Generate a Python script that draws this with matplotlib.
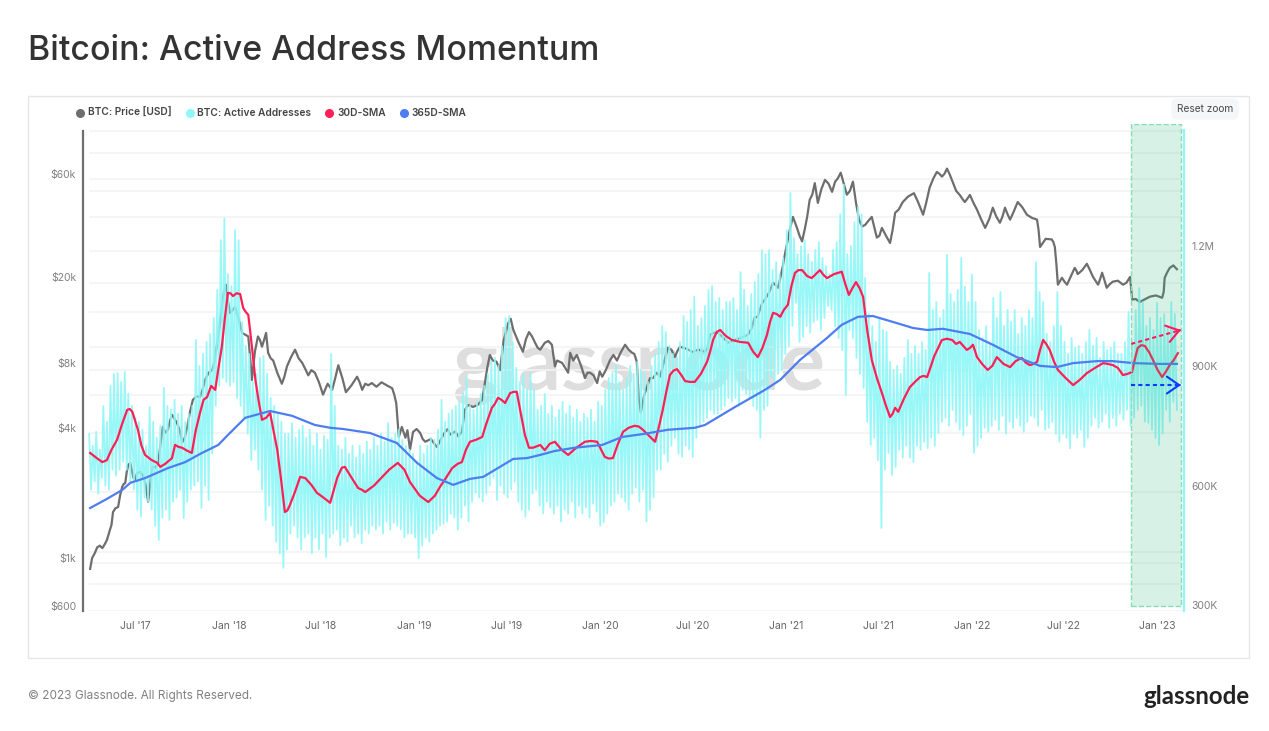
import matplotlib.pyplot as plt
import numpy as np

def_start_date = np.datetime64('2017-04-01')
def_width_px = 1269
def_height_px = 731
def_grey = '#6e6e6e'
def_cyan = '#8ff7f7'
def_red = '#ff1f55'
def_blue = '#4d7df0'

# (days since start, price in thousands of usd)
price_rows = [
    (2, 0.89), (6, 1.0), (16, 1.12), (26, 1.11), (35, 1.21), (41, 1.35), (47, 1.63), (57, 1.72), (65, 2.13),
    (71, 2.22), (77, 2.70), (81, 2.75), (87, 2.35), (94, 2.47), (106, 2.42), (116, 1.82), (124, 2.64), (136, 2.75),
    (145, 4.04), (155, 3.92), (163, 4.6), (173, 4.2), (183, 3.42), (193, 4.04), (204, 5.39), (218, 5.56), (228, 6.66),
    (242, 7.4), (252, 9.9), (261, 14.5), (269, 18.4), (277, 13.6), (287, 14.5), (301, 11.0), (313, 10.6), (320, 6.66),
    (332, 10.6), (340, 9.5), (348, 11.0), (352, 8.9), (362, 8.2), (379, 6.4), (389, 7.7), (405, 9.2), (419, 8.0),
    (431, 7.0), (444, 7.2), (460, 5.7), (478, 6.0), (490, 7.8), (505, 5.85), (527, 6.9), (537, 6.0), (549, 6.3),
    (596, 6.1), (604, 5.2), (609, 3.63), (615, 4.04), (631, 3.17), (637, 3.83), (651, 3.79), (661, 3.45), (684, 3.26),
    (700, 3.83), (710, 3.72), (733, 3.83), (739, 4.85), (755, 5.0), (773, 5.39), (783, 7.6), (794, 8.2), (808, 7.4),
    (824, 12.2), (834, 11.4), (853, 9.0), (865, 11.1), (877, 9.9), (887, 9.2), (896, 9.9), (910, 9.7), (916, 7.7),
    (930, 8.0), (942, 7.2), (946, 8.9), (959, 8.7), (975, 6.8), (985, 7.2), (999, 6.45), (1009, 6.9), (1024, 8.2),
    (1038, 8.2), (1054, 9.7), (1068, 8.9), (1077, 8.1), (1085, 4.7), (1097, 6.2), (1109, 6.8), (1123, 6.9),
    (1138, 9.4), (1152, 8.5), (1162, 9.5), (1186, 9.0), (1211, 9.0), (1221, 10.8), (1235, 11.1), (1256, 9.9),
    (1284, 10.5), (1296, 10.8), (1309, 13.0), (1319, 14.1), (1329, 15.7), (1345, 18.8), (1355, 17.8), (1364, 22.3),
    (1374, 29.8), (1384, 37.9), (1392, 33.7), (1402, 29.2), (1412, 37.9), (1417, 45.5), (1427, 54.3), (1433, 44),
    (1447, 56.2), (1461, 49.5), (1467, 55.2), (1478, 60.7), (1490, 48), (1502, 55.2), (1514, 36.8), (1520, 34.2),
    (1539, 37.9), (1549, 30.4), (1559, 33.7), (1575, 28.7), (1585, 39.6), (1600, 44.4), (1622, 48.8), (1630, 44.4),
    (1640, 38.8), (1653, 52), (1667, 61.2), (1677, 58.2), (1687, 63.4), (1699, 54.3), (1712, 47.9), (1722, 44.4),
    (1732, 47.9), (1746, 40.9), (1762, 33.7), (1777, 41.8), (1791, 35.6), (1801, 41.8), (1811, 36.8), (1826, 44.4),
    (1844, 38.8), (1864, 36.8), (1870, 27.5), (1893, 29.8), (1899, 27.5), (1905, 18.4), (1913, 19.8), (1923, 18.4),
    (1938, 22), (1944, 20.6), (1962, 23.0), (1974, 20.0), (1984, 18.4), (1992, 20.9), (2001, 17.8), (2013, 19.0),
    (2033, 18.4), (2047, 20.0), (2051, 15.7), (2066, 15.3), (2086, 16.2), (2110, 16.0), (2115, 19.8), (2125, 22.0),
    (2139, 21.7)]
# second reading, in between the first one
price_rows += [
    (11, 1.05), (21, 1.14), (31, 1.16), (38, 1.28), (44, 1.42), (52, 1.7), (61, 1.95), (68, 2.2), (74, 2.5),
    (84, 2.55), (91, 2.3), (100, 2.5), (111, 2.2), (120, 2.2), (130, 2.62), (140, 3.3), (150, 3.8), (159, 4.3),
    (168, 4.4), (178, 3.9), (188, 3.6), (198, 4.7), (211, 5.6), (223, 6.0), (235, 7.2), (247, 8.2), (257, 12),
    (265, 17), (273, 15.5), (282, 14), (294, 12.8), (307, 10.8), (317, 8.3), (326, 9), (336, 10.2), (344, 10.2),
    (357, 8.4), (370, 7.2), (384, 6.9), (397, 8.5), (412, 8.4), (425, 7.5), (437, 7.4), (452, 6.5), (469, 6.4),
    (484, 6.8), (498, 6.8), (516, 6.3), (532, 6.5), (543, 6.4), (556, 6.45), (565, 6.2), (575, 6.5), (585, 6.3),
    (600, 5.7), (622, 3.6), (626, 3.9), (644, 3.95), (656, 3.55), (672, 3.55), (692, 3.55), (705, 3.95), (720, 3.85),
    (726, 3.65), (745, 5.1), (764, 5.1), (778, 6.4), (788, 8.7), (801, 8.1), (815, 10.1), (829, 12.8), (844, 10),
    (859, 10.3), (871, 10.6), (882, 9.4), (903, 10.1), (920, 8.2), (936, 7.6), (952, 8.2), (967, 7.8), (980, 7.2),
    (992, 7.0), (1004, 7.3), (1016, 7.4), (1031, 8.7), (1046, 9), (1061, 9.2), (1072, 8.8), (1081, 5.4), (1091, 5.6),
    (1103, 6.8), (1116, 7.2), (1130, 8), (1145, 9.2), (1157, 9.1), (1174, 9.3), (1198, 9.2), (1216, 9.3), (1228, 11),
    (1246, 10.5), (1270, 10.2), (1303, 11.6), (1314, 13), (1324, 15.2), (1337, 16.9), (1350, 18.3), (1369, 26),
    (1379, 34), (1397, 31), (1407, 33), (1422, 48), (1440, 51), (1454, 54), (1472, 57), (1484, 54), (1496, 50),
    (1508, 44), (1526, 34.8), (1533, 36.5), (1544, 34), (1554, 31), (1567, 31), (1580, 33), (1592, 41), (1610, 47),
    (1626, 46.5), (1635, 41.5), (1646, 44), (1660, 57), (1672, 60), (1682, 60), (1693, 59), (1705, 50), (1717, 46),
    (1727, 46), (1739, 44), (1754, 37), (1770, 37), (1784, 38), (1796, 38), (1806, 39), (1818, 40), (1835, 42),
    (1854, 37.5), (1867, 33), (1881, 30), (1896, 29), (1902, 23), (1918, 19), (1930, 20), (1941, 21.5), (1953, 21.5),
    (1968, 21.5), (1979, 19.2), (1988, 19.5), (1996, 19.5), (2007, 18.5), (2023, 19.2), (2040, 18.8), (2058, 15.8),
    (2075, 15.7), (2098, 16.4), (2113, 17), (2120, 21), (2132, 22.6)]

# (days since start, addresses in thousands)
sma_30_rows = [
    (2, 682), (26, 659), (35, 664), (55, 715), (75, 790), (85, 785), (96, 740), (110, 677), (134, 657), (140, 647),
    (163, 669), (169, 702), (183, 695), (202, 682), (218, 782), (232, 822), (248, 840), (261, 948), (273, 1083),
    (283, 1075), (297, 1080), (303, 1045), (313, 1028), (327, 865), (340, 765), (356, 782), (370, 690), (385, 534),
    (395, 552), (415, 622), (425, 619), (448, 582), (474, 557), (503, 647), (529, 594), (543, 584), (607, 657),
    (631, 609), (667, 559), (690, 597), (714, 644), (733, 659), (749, 710), (773, 722), (792, 795), (804, 820),
    (818, 807), (828, 832), (841, 835), (857, 727), (873, 695), (887, 702), (896, 689), (916, 710), (942, 677),
    (975, 710), (999, 710), (1014, 672), (1030, 669), (1050, 735), (1073, 750), (1089, 740), (1113, 710), (1128, 790),
    (1142, 877), (1156, 892), (1172, 862), (1191, 860), (1215, 910), (1227, 965), (1241, 990), (1264, 965),
    (1296, 958), (1315, 922), (1333, 978), (1345, 1033), (1359, 1023), (1374, 1053), (1388, 1133), (1402, 1140),
    (1421, 1120), (1437, 1140), (1451, 1120), (1480, 1136), (1494, 1078), (1508, 1110), (1522, 1073), (1539, 915),
    (1559, 832), (1575, 772), (1585, 795), (1591, 785), (1614, 847), (1634, 872), (1648, 872), (1677, 965),
    (1697, 965), (1712, 960), (1726, 940), (1738, 953), (1746, 922), (1767, 890), (1785, 922), (1811, 897),
    (1834, 920), (1850, 902), (1864, 910), (1876, 965), (1889, 940), (1905, 890), (1935, 852), (1962, 882),
    (1994, 907), (2013, 902), (2033, 877), (2051, 885), (2062, 945), (2076, 950), (2092, 915), (2110, 872),
    (2125, 902), (2141, 932)]
sma_30_rows += [
    (14, 670), (44, 690), (65, 755), (80, 792), (91, 760), (103, 700), (122, 665), (150, 655), (176, 697), (192, 688),
    (210, 740), (225, 815), (240, 850), (255, 900), (267, 1020), (278, 1082), (290, 1082), (308, 1035), (320, 950),
    (333, 815), (348, 770), (363, 735), (378, 610), (390, 538), (405, 585), (437, 602), (461, 570), (488, 620),
    (497, 645), (516, 620), (536, 590), (560, 600), (575, 620), (590, 640), (620, 640), (650, 575), (680, 575),
    (702, 620), (725, 655), (741, 690), (761, 715), (781, 755), (798, 805), (811, 815), (835, 835), (849, 780),
    (865, 695), (906, 705), (929, 690), (958, 695), (987, 712), (1007, 690), (1022, 668), (1040, 705), (1061, 745),
    (1081, 748), (1101, 725), (1120, 745), (1135, 835), (1149, 888), (1164, 878), (1181, 860), (1203, 880),
    (1221, 935), (1234, 985), (1252, 975), (1280, 960), (1306, 935), (1324, 945), (1339, 1010), (1352, 1030),
    (1366, 1040), (1381, 1100), (1395, 1140), (1412, 1125), (1429, 1130), (1444, 1128), (1465, 1130), (1487, 1105),
    (1501, 1095), (1515, 1095), (1530, 990), (1549, 870), (1567, 800), (1580, 780), (1603, 820), (1624, 860),
    (1641, 875), (1662, 925), (1687, 968), (1705, 955), (1719, 950), (1732, 945), (1756, 905), (1776, 900),
    (1798, 905), (1822, 912), (1842, 908), (1857, 905), (1870, 940), (1882, 955), (1897, 912), (1920, 870),
    (1948, 865), (1978, 895), (2003, 905), (2023, 895), (2042, 880), (2056, 915), (2069, 952), (2084, 935),
    (2101, 890), (2117, 885), (2133, 915)]

sma_365_rows = [
    (2, 544), (31, 564), (65, 589), (81, 607), (110, 619), (155, 644), (189, 659), (222, 682), (254, 702), (273, 727),
    (307, 770), (356, 787), (399, 775), (444, 752), (474, 745), (499, 742), (552, 732), (605, 707), (645, 657),
    (684, 619), (716, 602), (749, 617), (775, 622), (834, 667), (861, 669), (887, 677), (916, 687), (955, 695),
    (1009, 702), (1048, 722), (1093, 730), (1138, 740), (1191, 745), (1211, 752), (1270, 797), (1329, 840),
    (1359, 865), (1398, 915), (1451, 970), (1480, 1003), (1512, 1023), (1541, 1025), (1581, 1010), (1620, 995),
    (1648, 990), (1679, 993), (1732, 980), (1777, 953), (1824, 922), (1870, 900), (1903, 897), (1935, 907),
    (1982, 912), (2013, 912), (2053, 907), (2105, 905), (2139, 905)]

# one high and one low per week, the active addresses swing with the weekend
active_highs = [
    730, 700, 735, 690, 800, 760, 850, 880, 882, 860,
    885, 830, 800, 770, 760, 740, 700, 797, 760, 720,
    750, 845, 800, 790, 815, 780, 800, 760, 780, 800,
    965, 900, 930, 960, 980, 1020, 1090, 1215, 1270, 1130,
    1100, 1240, 1215, 1010, 950, 930, 860, 880, 920, 925,
    880, 820, 800, 780, 760, 730, 730, 757, 720, 740,
    750, 720, 740, 700, 730, 690, 725, 715, 930, 800,
    700, 690, 720, 680, 700, 670, 700, 680, 710, 690,
    720, 700, 730, 710, 757, 720, 730, 740, 715, 700,
    690, 680, 660, 700, 680, 700, 720, 715, 740, 815,
    760, 780, 790, 800, 810, 830, 872, 800, 790, 810,
    830, 850, 880, 910, 920, 900, 950, 1020, 1025, 960,
    895, 860, 880, 840, 880, 840, 790, 800, 830, 780,
    800, 770, 790, 810, 780, 800, 770, 790, 760, 780,
    770, 790, 760, 810, 800, 840, 870, 882, 900, 860,
    840, 870, 900, 880, 910, 890, 880, 860, 900, 930,
    960, 1000, 985, 950, 930, 920, 960, 1025, 1010, 1040,
    1073, 1000, 1020, 1050, 1090, 1100, 1060, 1070, 1040, 1060,
    1060, 1070, 1040, 1135, 1090, 1050, 1080, 1110, 1130, 1190,
    1180, 1190, 1140, 1160, 1130, 1170, 1240, 1333, 1220, 1180,
    1200, 1215, 1180, 1160, 1190, 1210, 1170, 1150, 1130, 1190,
    1210, 1280, 1354, 1180, 1200, 1260, 1298, 1280, 1120, 1030,
    1000, 960, 1020, 990, 985, 910, 890, 900, 880, 920,
    965, 930, 950, 930, 960, 940, 1133, 1040, 1060, 1020,
    1040, 1178, 1080, 1060, 1090, 1170, 1098, 1060, 1128, 1060,
    990, 970, 1000, 960, 1070, 1020, 1085, 1000, 1040, 1010,
    1040, 980, 1020, 1000, 1040, 1020, 1160, 1085, 1060, 980,
    960, 1000, 1085, 1000, 960, 930, 970, 945, 950, 930,
    960, 990, 950, 970, 920, 960, 940, 945, 960, 930,
    930, 960, 1035, 960, 1040, 1095, 1060, 1000, 1020, 990,
    1058, 1020, 1030, 1000, 1060, 1030]
active_lows = [
    590, 610, 580, 620, 600, 590, 640, 625, 640, 660,
    640, 610, 590, 540, 522, 570, 560, 540, 500, 464,
    520, 540, 514, 560, 570, 590, 519, 560, 590, 600,
    610, 544, 600, 564, 680, 800, 850, 870, 860, 850,
    860, 820, 800, 770, 730, 664, 690, 640, 590, 514,
    550, 500, 460, 430, 394, 440, 480, 500, 470, 440,
    470, 480, 431, 470, 440, 480, 421, 470, 480, 490,
    450, 470, 460, 500, 470, 480, 456, 490, 480, 500,
    490, 500, 480, 510, 490, 507, 500, 490, 470, 480,
    480, 470, 419, 450, 470, 460, 480, 490, 500, 505,
    510, 530, 520, 490, 520, 550, 510, 560, 582, 570,
    560, 580, 600, 620, 564, 600, 580, 570, 590, 610,
    560, 540, 522, 540, 580, 590, 550, 530, 560, 545,
    530, 550, 510, 540, 530, 560, 520, 550, 530, 545,
    520, 555, 535, 500, 509, 530, 550, 560, 580, 570,
    560, 540, 580, 595, 560, 590, 510, 539, 570, 640,
    640, 680, 660, 700, 720, 680, 672, 700, 690, 672,
    720, 750, 760, 770, 790, 780, 780, 790, 800, 820,
    810, 820, 800, 840, 830, 820, 800, 790, 720, 790,
    800, 872, 860, 880, 890, 930, 950, 1000, 1058, 960,
    973, 1000, 983, 1010, 1015, 990, 1020, 1050, 1040, 1000,
    970, 940, 827, 990, 970, 920, 880, 845, 760, 702,
    720, 664, 494, 640, 682, 627, 647, 690, 670, 700,
    670, 659, 700, 690, 710, 694, 720, 700, 732, 760,
    770, 750, 790, 760, 740, 727, 750, 780, 682, 700,
    720, 745, 735, 750, 765, 740, 775, 730, 760, 745,
    770, 750, 735, 760, 775, 770, 750, 790, 740, 745,
    760, 730, 710, 730, 720, 694, 730, 720, 740, 697,
    720, 750, 770, 745, 760, 780, 745, 770, 750, 780,
    765, 790, 750, 770, 790, 800, 760, 757, 740, 720,
    702, 730, 790, 760, 810, 790]

# horizontal lines of the chart, they do not sit on the labelled prices
grid_prices = [94.8, 75, 56.8, 50, 37.9, 26.4, 18.8, 13.8, 9.5, 7.4, 5.7, 3.79, 2.02, 1.066, 0.948, 0.758, 0.568]

x_ticks = ['2017-07-01', '2018-01-01', '2018-07-01', '2019-01-01', '2019-07-01', '2020-01-01', '2020-07-01',
           '2021-01-01', '2021-07-01', '2022-01-01', '2022-07-01', '2023-01-01']
x_labels = ["Jul '17", "Jan '18", "Jul '18", "Jan '19", "Jul '19", "Jan '20", "Jul '20",
            "Jan '21", "Jul '21", "Jan '22", "Jul '22", "Jan '23"]


def obtain_dates(days):
    """
    Turns day offsets into real dates
    :param days: Days counted from the first day of the chart
    :return: An array of datetime64 values
    """
    return def_start_date + np.array(days, dtype='timedelta64[D]')


def obtain_active_addresses():
    """
    Puts the weekly highs and lows one after the other so that they draw as spikes
    :return: A tuple of arrays, one for x, one for y values
    """
    weeks = np.arange(len(active_highs)) * 7
    days = np.column_stack((weeks, weeks + 4)).ravel()
    values = np.column_stack((active_highs, active_lows)).ravel()
    return obtain_dates(days), values


def plot_rows(rows, color, width):
    rows = sorted(rows)
    x_values = obtain_dates([row[0] for row in rows])
    y_values = [row[1] for row in rows]
    plt.plot(x_values, y_values, color=color, linewidth=width, solid_joinstyle='round')


def fig_x(pixel):
    return pixel / def_width_px


def fig_y(pixel):
    return 1 - pixel / def_height_px


def generate_and_plot_price_axis():
    """
    Left axis, logarithmic, holds the price and the watermark
    :return: None
    """
    plt.axes([fig_x(83), fig_y(611), (1184 - 83) / def_width_px, (611 - 124) / def_height_px])
    plt.text(fig_x(639), fig_y(366), 'glassnode', transform=plt.gcf().transFigure, ha='center', va='center',
             fontsize=61, family='Lato', weight='bold', color='#dedede', zorder=0)
    plt.hlines(grid_prices, obtain_dates([0])[0], obtain_dates([2153])[0], color='#f3f3f3', linewidth=1.2, zorder=0.5)
    plot_rows(price_rows, def_grey, 1.6)
    plt.yscale('log')
    plt.ylim(0.568, 102)
    plt.xlim(obtain_dates([-12])[0], obtain_dates([2153])[0])
    plt.yticks([60, 20, 8, 4, 1, 0.6], ['$60k', '$20k', '$8k', '$4k', '$1k', '$600'], family='Inter', fontsize=7.5,
               color='#808080')
    plt.minorticks_off()
    plt.xticks(np.array(x_ticks, dtype='datetime64[D]'), x_labels, family='Inter', fontsize=7.5, color='#666666')
    plt.tick_params(axis='y', length=0, pad=5)
    plt.tick_params(axis='x', length=0, pad=7)
    for side in ['top', 'right', 'bottom']:
        plt.gca().spines[side].set_visible(False)
    plt.gca().spines['left'].set_color(def_grey)
    plt.gca().spines['left'].set_linewidth(1.6)
    plt.gca().spines['left'].set_bounds(0.568, 94.8)


def generate_and_plot_address_axis():
    """
    Right axis, holds the active addresses, both averages, the green zone and the two arrows
    :return: None
    """
    plt.twinx()
    x, y = obtain_active_addresses()
    plt.plot(x, y, color=def_cyan, linewidth=1.3, alpha=0.9)
    plot_rows(sma_30_rows, def_red, 1.6)
    plot_rows(sma_365_rows, def_blue, 1.6)
    plt.ylim(286, 1506)
    plt.yticks([1200, 900, 600, 300], ['1.2M', '900K', '600K', '300K'], family='Inter', fontsize=7.5, color='#808080')
    plt.tick_params(axis='y', length=0, pad=5.5)
    for side in ['top', 'left', 'bottom']:
        plt.gca().spines[side].set_visible(False)
    plt.gca().spines['right'].set_color(def_cyan)
    plt.gca().spines['right'].set_linewidth(1.6)
    plt.gca().spines['right'].set_bounds(286, 1490)

    zone_start, zone_end = obtain_dates([2049, 2147])
    plt.axvspan(zone_start, zone_end, ymin=0.0103, ymax=1, facecolor=(0.17, 0.71, 0.49, 0.18),
                edgecolor='#86dcbb', linestyle='--', linewidth=1, zorder=5)
    plot_arrow(zone_start, zone_end, 955, 990, '#ff1a5e')
    plot_arrow(zone_start, zone_end, 852, 852, '#0a3cff')


def plot_arrow(x_start, x_end, y_start, y_end, color):
    plt.plot([x_start, x_end], [y_start, y_end], color=color, linewidth=1.5, linestyle=(0, (2, 1.5)), zorder=6)
    x_back = x_end - np.timedelta64(4, 'D')
    y_back = y_end - (y_end - y_start) * 4 / 98
    plt.annotate('', xy=(x_end, y_end), xytext=(x_back, y_back), zorder=6,
                 arrowprops=dict(arrowstyle='->,head_length=0.55,head_width=0.38', color=color, linewidth=1.5,
                                 shrinkA=0, shrinkB=0, mutation_scale=16))


def generate_and_plot_legend():
    names = ['BTC: Price [USD]', 'BTC: Active Addresses', '30D-SMA', '365D-SMA']
    colors = [def_grey, def_cyan, def_red, def_blue]
    for name, color in zip(names, colors):
        plt.plot([], [], linestyle='none', marker='o', markersize=5.5, color=color, label=name)
    plt.legend(loc='center left', bbox_to_anchor=(fig_x(76), fig_y(113)), bbox_transform=plt.gcf().transFigure,
               ncol=4, frameon=False, handlelength=0.8, handletextpad=0.35, columnspacing=1.4, borderpad=0,
               borderaxespad=0, prop={'family': 'Inter', 'size': 7.3, 'weight': 'semibold'}, labelcolor='#444444')


def generate_and_plot_page():
    """
    Everything around the chart: card, title, button and footer
    :return: None
    """
    figure = plt.gcf()
    figure.add_artist(plt.Rectangle((fig_x(27.5), fig_y(658)), 1221 / def_width_px, 562 / def_height_px,
                                    transform=figure.transFigure, facecolor='none', edgecolor='#e6e6e6',
                                    linewidth=1, zorder=-1))
    plt.figtext(fig_x(28), fig_y(51), 'Bitcoin: Active Address Momentum', family='Inter', fontsize=24.4,
                weight='medium', color='#333333', va='center')
    plt.figtext(fig_x(1205), fig_y(109), 'Reset zoom', family='Inter', fontsize=7.3, color='#4a4a4a', ha='center',
                va='center', bbox=dict(boxstyle='round,pad=0.55', facecolor='#f5f6f8', edgecolor='none'))
    plt.figtext(fig_x(28), fig_y(696), '\u00a9 2023 Glassnode. All Rights Reserved.', family='Inter', fontsize=8.5,
                color='#808080', va='center')
    plt.figtext(fig_x(1249), fig_y(697), 'glassnode', family='Lato', fontsize=17.3, weight='bold', color='#222222',
                ha='right', va='center')


plt.figure(figsize=(def_width_px / 100, def_height_px / 100), dpi=100)
generate_and_plot_price_axis()
generate_and_plot_address_axis()
generate_and_plot_legend()
generate_and_plot_page()

plt.savefig('out.png', dpi=100)
